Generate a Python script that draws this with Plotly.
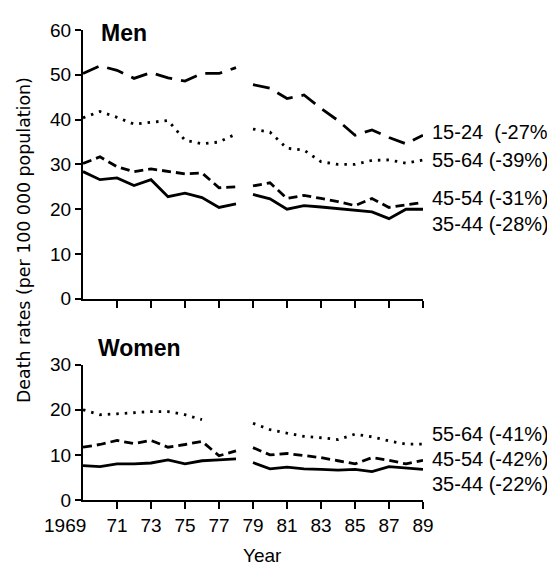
import plotly.graph_objects as go

# ---------------- data ----------------
years_pre = list(range(1969, 1979))
years_post = list(range(1979, 1990))

# Men (per 100 000)
men_15_24_pre = [50.3, 52.0, 51.0, 49.2, 50.5, 49.3, 48.6, 50.3, 50.3, 51.6]
men_15_24_post = [47.8, 47.0, 44.7, 45.5, 42.5, 39.8, 36.5, 37.7, 36.0, 34.6, 36.5]
men_55_64_pre = [40.4, 41.8, 40.5, 39.0, 39.4, 39.8, 35.4, 34.6, 35.0, 36.8]
men_55_64_post = [37.9, 37.2, 33.6, 33.2, 30.6, 30.0, 30.0, 30.9, 31.0, 30.3, 31.0]
men_45_54_pre = [30.2, 31.7, 29.5, 28.4, 29.0, 28.4, 27.9, 28.1, 24.8, 25.0]
men_45_54_post = [25.2, 25.9, 22.4, 23.1, 22.4, 21.7, 20.8, 22.4, 20.4, 20.9, 21.5]
men_35_44_pre = [28.4, 26.6, 27.0, 25.3, 26.6, 22.8, 23.6, 22.6, 20.4, 21.2]
men_35_44_post = [23.3, 22.3, 20.0, 20.8, 20.5, 20.1, 19.7, 19.4, 17.9, 20.0, 20.0]

# Women (per 100 000)
women_55_64_pre = [20.0, 18.9, 19.1, 19.4, 19.6, 19.6, 18.9, 17.8, None, None]
women_55_64_post = [17.0, 15.6, 14.8, 14.1, 13.8, 13.4, 14.6, 14.0, 13.1, 12.4, 12.4]
women_45_54_pre = [11.7, 12.3, 13.2, 12.5, 13.2, 11.7, 12.3, 13.0, 9.8, 10.9]
women_45_54_post = [11.6, 10.0, 10.3, 9.8, 9.4, 8.7, 8.0, 9.4, 8.8, 8.0, 8.8]
women_35_44_pre = [7.6, 7.4, 8.0, 8.0, 8.2, 8.9, 8.0, 8.7, 8.9, 9.1]
women_35_44_post = [8.3, 6.9, 7.3, 6.9, 6.8, 6.6, 6.8, 6.3, 7.4, 7.1, 6.8]

men_labels = ["15-24  (-27%)", "55-64 (-39%)", "45-54 (-31%)", "35-44 (-28%)"]
women_labels = ["55-64 (-41%)", "45-54 (-42%)", "35-44 (-22%)"]

tick_years = list(range(1971, 1990, 2))
tick_text = [str(y % 100) for y in tick_years]
first_year_label = "1969"

# ---------------- styles ----------------
FONT = "Liberation Sans, Arial, Helvetica, sans-serif"
WIDE = "DejaVu Sans, Liberation Sans, sans-serif"
DASH_LONG = "17px,9px"
DASH_MED = "9px,5px"
DASH_DOT = "2.5px,6px"
LW = 2.8


def xy(pre, post):
    return years_pre + [None] + years_post, list(pre) + [None] + list(post)


fig = go.Figure()

men_series = [
    (men_15_24_pre, men_15_24_post, DASH_LONG),
    (men_55_64_pre, men_55_64_post, DASH_DOT),
    (men_45_54_pre, men_45_54_post, DASH_MED),
    (men_35_44_pre, men_35_44_post, "solid"),
]
for pre, post, dash in men_series:
    x, y = xy(pre, post)
    fig.add_trace(go.Scatter(x=x, y=y, mode="lines", xaxis="x", yaxis="y",
                             line=dict(color="black", width=LW, dash=dash),
                             connectgaps=False, showlegend=False, hoverinfo="skip"))

women_series = [
    (women_55_64_pre, women_55_64_post, DASH_DOT),
    (women_45_54_pre, women_45_54_post, DASH_MED),
    (women_35_44_pre, women_35_44_post, "solid"),
]
for pre, post, dash in women_series:
    x, y = xy(pre, post)
    fig.add_trace(go.Scatter(x=x, y=y, mode="lines", xaxis="x2", yaxis="y2",
                             line=dict(color="black", width=LW, dash=dash),
                             connectgaps=False, showlegend=False, hoverinfo="skip"))

axis_common = dict(showline=True, linecolor="black", linewidth=2, ticks="outside",
                   tickwidth=2, tickcolor="black", showgrid=False,
                   zeroline=False, tickfont=dict(family=FONT, size=19, color="black"))

fig.update_layout(
    width=555, height=568,
    margin=dict(l=75, r=140, t=13, b=76),
    paper_bgcolor="white", plot_bgcolor="white",
    font=dict(family=FONT, color="black"),
    xaxis=dict(domain=[0, 1], range=[1969, 1989], anchor="y", tickvals=tick_years,
               showticklabels=False, ticklen=7, **axis_common),
    yaxis=dict(domain=[0.428, 1.0], range=[0, 60], anchor="x",
               tickvals=[0, 10, 20, 30, 40, 50, 60], ticklen=6, **axis_common),
    xaxis2=dict(domain=[0, 1], range=[1969, 1989], anchor="y2", tickvals=tick_years,
                ticktext=tick_text, ticklen=7, **axis_common),
    yaxis2=dict(domain=[0, 0.288], range=[0, 30], anchor="x2",
                tickvals=[0, 10, 20, 30], ticklen=6, **axis_common),
)

annotations = []
men_label_y = [37.2, 30.9, 22.5, 16.6]
for txt, yv in zip(men_labels, men_label_y):
    annotations.append(dict(x=1989, y=yv, xref="x", yref="y", text=txt, showarrow=False,
                            xanchor="left", yanchor="middle", xshift=7,
                            font=dict(family=FONT, size=20, color="black")))
women_label_y = [14.6, 9.1, 3.5]
for txt, yv in zip(women_labels, women_label_y):
    annotations.append(dict(x=1989, y=yv, xref="x2", yref="y2", text=txt, showarrow=False,
                            xanchor="left", yanchor="middle", xshift=7,
                            font=dict(family=FONT, size=20, color="black")))

annotations.append(dict(x=1970, y=60, xref="x", yref="y", text="<b>Men</b>", showarrow=False,
                        xanchor="left", yanchor="middle", yshift=-3, xshift=-1,
                        font=dict(family=FONT, size=23, color="black")))
annotations.append(dict(x=1970, y=30, xref="x2", yref="y2", text="<b>Women</b>", showarrow=False,
                        xanchor="left", yanchor="middle", yshift=17, xshift=-4,
                        font=dict(family=FONT, size=23, color="black")))
# first tick label sits left of the corner, as in the original
annotations.append(dict(x=1969, y=0, xref="x2", yref="y2", text=first_year_label, showarrow=False,
                        xanchor="right", yanchor="middle", xshift=5, yshift=-25,
                        font=dict(family=FONT, size=19, color="black")))
annotations.append(dict(x=-0.1735, y=0.553, xref="paper", yref="paper",
                        text="Death rates (per 100 000 population)", showarrow=False,
                        textangle=-90, xanchor="center", yanchor="middle",
                        font=dict(family=WIDE, size=17.4, color="black")))
annotations.append(dict(x=0.529, y=-0.118, xref="paper", yref="paper", text="Year",
                        showarrow=False, xanchor="center", yanchor="middle",
                        font=dict(family=FONT, size=19, color="black")))
fig.update_layout(annotations=annotations)

fig.write_html("out.html")
